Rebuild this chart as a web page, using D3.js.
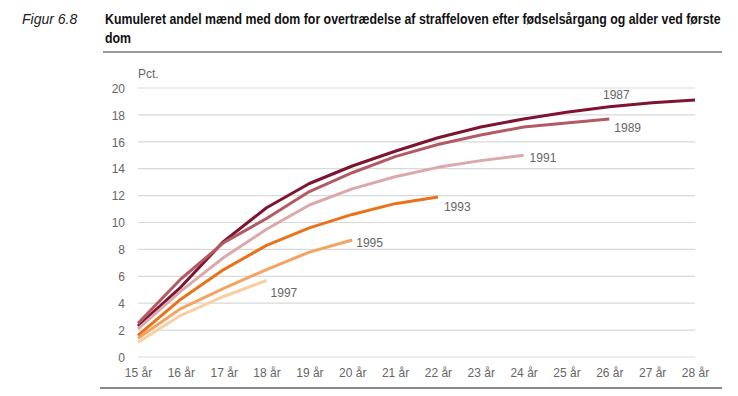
<!DOCTYPE html>
<html>
<head>
<meta charset="utf-8">
<script src="https://cdn.jsdelivr.net/npm/d3@7"></script>
<style>
  body { margin: 0; background: #fff; }
  svg text { font-family: "Liberation Sans", Arial, sans-serif; }
</style>
</head>
<body>
<div id="chart"></div>
<script>
// alder (x-akse)
var ages = [15, 16, 17, 18, 19, 20, 21, 22, 23, 24, 25, 26, 27, 28];
var yTicks = [0, 2, 4, 6, 8, 10, 12, 14, 16, 18, 20];

// fødselsårgange
var cohorts = ["1987", "1989", "1991", "1993", "1995", "1997"];
var colors = ["#7d1431", "#b25b64", "#dba9ab", "#e8731a", "#f2a462", "#f9cfa2"];

// kumuleret andel (pct.) pr. alder, fra 15 år
var v1987 = [2.3, 5.2, 8.6, 11.1, 12.9, 14.2, 15.3, 16.3, 17.1, 17.7, 18.2, 18.6, 18.9, 19.1];
var v1989 = [2.5, 5.8, 8.5, 10.3, 12.3, 13.7, 14.9, 15.8, 16.5, 17.1, 17.4, 17.7];
var v1991 = [2.1, 4.9, 7.4, 9.5, 11.3, 12.5, 13.4, 14.1, 14.6, 15.0];
var v1993 = [1.6, 4.3, 6.5, 8.3, 9.6, 10.6, 11.4, 11.9];
var v1995 = [1.4, 3.6, 5.1, 6.5, 7.8, 8.7];
var v1997 = [1.1, 3.1, 4.5, 5.7];
var seriesValues = [v1987, v1989, v1991, v1993, v1995, v1997];

// etiketternes placering (dx, dy) i forhold til seriens sidste punkt
var labelOffsets = [[-92, -5], [5, 9], [6, 3], [6, 10], [4, 3], [4, 12]];

var width = 738, height = 396;
var margin = { left: 138, right: 43, top: 88, bottom: 39 };

var svg = d3.select("#chart").append("svg")
  .attr("width", width)
  .attr("height", height);

// titel
svg.append("text")
  .attr("x", 22).attr("y", 24)
  .style("font-style", "italic")
  .style("font-size", "14px")
  .attr("fill", "#222")
  .text("Figur 6.8");

// titlen er smallere i originalen -> skaler vandret
var titleG = svg.append("g");
var t1 = titleG.append("text")
  .attr("x", 0).attr("y", 0)
  .style("font-weight", "bold")
  .style("font-size", "14px")
  .attr("fill", "#111")
  .text("Kumuleret andel mænd med dom for overtrædelse af straffeloven efter fødselsårgang og alder ved første");
var t2 = titleG.append("text")
  .attr("x", 0).attr("y", 19)
  .style("font-weight", "bold")
  .style("font-size", "14px")
  .attr("fill", "#111")
  .text("dom");
var sx = 616 / t1.node().getComputedTextLength();
titleG.attr("transform", "translate(105,24) scale(" + sx + ",1)");

svg.append("line")
  .attr("x1", 103).attr("x2", 722)
  .attr("y1", 52).attr("y2", 52)
  .attr("stroke", "#777").attr("stroke-width", 1.5);

svg.append("line")
  .attr("x1", 100).attr("x2", 722)
  .attr("y1", 388).attr("y2", 388)
  .attr("stroke", "#888").attr("stroke-width", 2);

var x = d3.scaleLinear().domain([15, 28]).range([margin.left, width - margin.right]);
var y = d3.scaleLinear().domain([0, 20]).range([height - margin.bottom, margin.top]);

// gitterlinjer
svg.append("g")
  .selectAll("line")
  .data(yTicks)
  .enter().append("line")
  .attr("x1", x(15)).attr("x2", x(28))
  .attr("y1", d => y(d)).attr("y2", d => y(d))
  .attr("stroke", "#d9d9d9").attr("stroke-width", 1.2);

// y-akse
var yAxis = svg.append("g")
  .attr("transform", "translate(" + (x(15) - 13) + ",0)")
  .call(d3.axisLeft(y).tickValues(yTicks).tickSize(0).tickPadding(0));
yAxis.select(".domain").remove();
yAxis.selectAll("text")
  .style("font-size", "12px")
  .attr("fill", "#666")
  .attr("dy", "0.35em");

svg.append("text")
  .attr("x", x(15)).attr("y", 78)
  .style("font-size", "12px")
  .attr("fill", "#666")
  .text("Pct.");

// x-akse
var xAxis = svg.append("g")
  .attr("transform", "translate(0," + (y(0) + 11) + ")")
  .call(d3.axisBottom(x).tickValues(ages).tickSize(0).tickPadding(0)
    .tickFormat(d => d + " år"));
xAxis.select(".domain").remove();
xAxis.selectAll("text")
  .style("font-size", "12px")
  .attr("fill", "#666");

// linjer
var line = d3.line()
  .x((d, i) => x(ages[i]))
  .y(d => y(d));

cohorts.forEach(function (c, k) {
  var vals = seriesValues[k];
  svg.append("path")
    .datum(vals)
    .attr("fill", "none")
    .attr("stroke", colors[k])
    .attr("stroke-width", 3)
    .attr("stroke-linejoin", "round")
    .attr("d", line);

  var last = vals.length - 1;
  svg.append("text")
    .attr("x", x(ages[last]) + labelOffsets[k][0])
    .attr("y", y(vals[last]) + labelOffsets[k][1])
    .attr("dy", "0.35em")
    .style("font-size", "12px")
    .attr("fill", "#666")
    .text(c);
});
</script>
</body>
</html>
